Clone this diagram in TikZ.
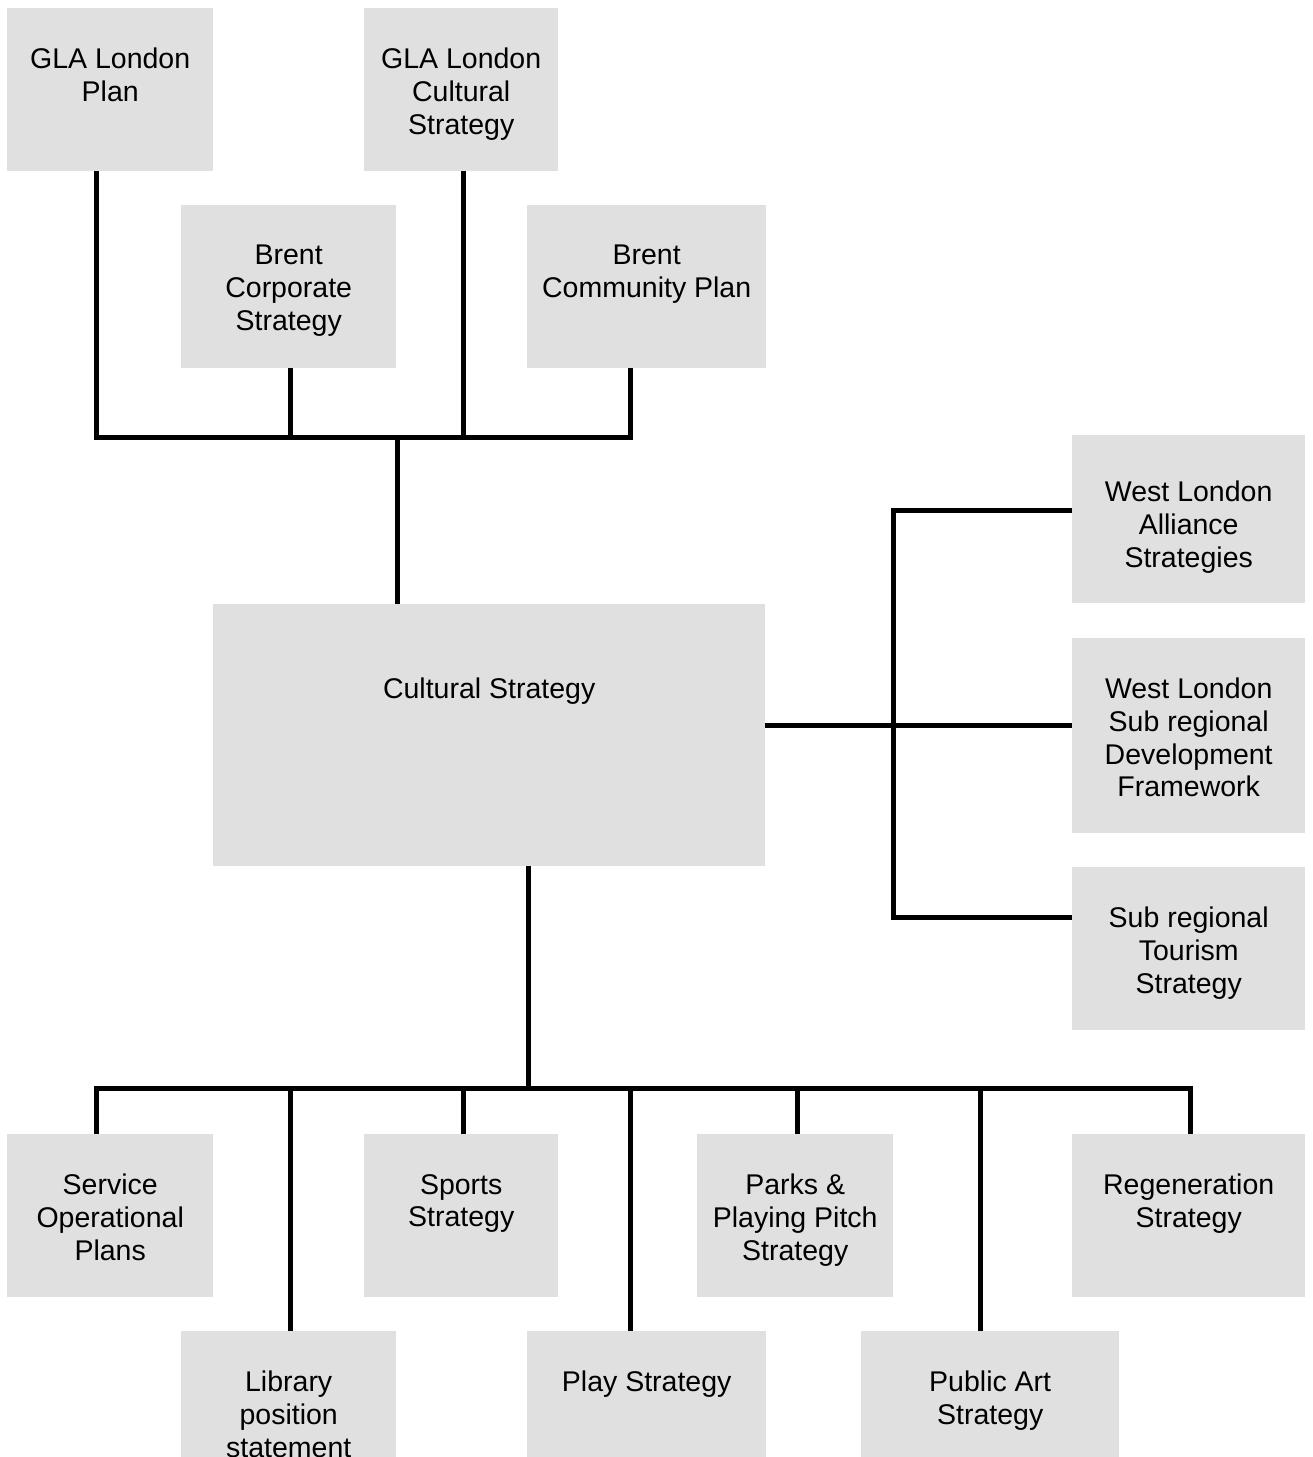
\documentclass[tikz,border=0pt]{standalone}
\usepackage{fontspec}
\setmainfont{Liberation Sans}
\definecolor{boxgray}{RGB}{224,224,224}
\begin{document}
\begin{tikzpicture}[x=1pt,y=-1pt,
  box/.style={fill=boxgray,draw=none,inner sep=0pt,anchor=north west},
  txt/.style={anchor=north,align=center,inner sep=0pt,font=\fontsize{28.5}{32.7}\selectfont},
  conn/.style={line width=5pt,draw=black,line join=miter}]
\useasboundingbox (0,0) rectangle (1313,1457);
% top boxes
\node[box,minimum width=206,minimum height=163] (gla) at (7,8) {};
\node[txt] (glat) at ([yshift=-40pt]gla.north) {GLA London\\Plan};
\node[box,minimum width=194,minimum height=163] (glac) at (364,8) {};
\node[txt] (glact) at ([yshift=-40pt]glac.north) {GLA London\\Cultural\\Strategy};
\node[box,minimum width=215,minimum height=163] (bcorp) at (181,205) {};
\node[txt] (bcorpt) at ([yshift=-40pt]bcorp.north) {Brent\\Corporate\\Strategy};
\node[box,minimum width=239,minimum height=163] (bcom) at (527,205) {};
\node[txt] (bcomt) at ([yshift=-40pt]bcom.north) {Brent\\Community Plan};
% central
\node[box,minimum width=552,minimum height=262] (cs) at (213,604) {};
\node[txt] (cst) at ([yshift=-74pt]cs.north) {Cultural Strategy};
% right boxes
\node[box,minimum width=233,minimum height=168] (wla) at (1072,435) {};
\node[txt] (wlat) at ([yshift=-46pt]wla.north) {West London\\Alliance\\Strategies};
\node[box,minimum width=233,minimum height=195] (wls) at (1072,638) {};
\node[txt] (wlst) at ([yshift=-40pt]wls.north) {West London\\Sub regional\\Development\\Framework};
\node[box,minimum width=233,minimum height=163] (slt) at (1072,867) {};
\node[txt] (sltt) at ([yshift=-40pt]slt.north) {Sub regional\\Tourism\\Strategy};
% bottom row 1
\node[box,minimum width=206,minimum height=163] (sop) at (7,1134) {};
\node[txt] (sopt) at ([yshift=-40pt]sop.north) {Service\\Operational\\Plans};
\node[box,minimum width=194,minimum height=163] (spo) at (364,1134) {};
\node[txt] (spot) at ([yshift=-40pt]spo.north) {Sports\\Strategy};
\node[box,minimum width=196,minimum height=163] (parks) at (697,1134) {};
\node[txt] (parkst) at ([yshift=-40pt]parks.north) {Parks \&\\Playing Pitch\\Strategy};
\node[box,minimum width=233,minimum height=163] (regen) at (1072,1134) {};
\node[txt] (regent) at ([yshift=-40pt]regen.north) {Regeneration\\Strategy};
% bottom row 2
\node[box,minimum width=215,minimum height=126] (lib) at (181,1331) {};
\node[txt] (libt) at ([yshift=-40pt]lib.north) {Library\\position\\statement};
\node[box,minimum width=239,minimum height=126] (play) at (527,1331) {};
\node[txt] (playt) at ([yshift=-40pt]play.north) {Play Strategy};
\node[box,minimum width=258,minimum height=126] (pub) at (861,1331) {};
\node[txt] (pubt) at ([yshift=-40pt]pub.north) {Public Art\\Strategy};
% top connectors
\coordinate (tA) at (96,437);
\coordinate (tB) at (290,437);
\coordinate (tC) at (463,437);
\coordinate (tD) at (630,437);
\coordinate (tM) at (397,437);
\draw[conn] (tA |- gla.south) -- (tA) -- (tD) -- (tD |- bcom.south);
\draw[conn] (tB |- bcorp.south) -- (tB);
\draw[conn] (tC |- glac.south) -- (tC);
\draw[conn] (tM) -- (tM |- cs.north);
% right connectors
\coordinate (rA) at (893,510);
\coordinate (rM) at (893,725);
\coordinate (rB) at (893,917);
\draw[conn] (wla.west |- rA) -- (rA) -- (rB) -- (slt.west |- rB);
\draw[conn] (rM -| cs.east) -- (wls.west |- rM);
% bottom connectors
\coordinate (bM) at (528,1088);
\coordinate (b1) at (96,1088);
\coordinate (b2) at (290,1088);
\coordinate (b3) at (463,1088);
\coordinate (b4) at (630,1088);
\coordinate (b5) at (797,1088);
\coordinate (b6) at (980,1088);
\coordinate (b7) at (1190,1088);
\draw[conn] (bM |- cs.south) -- (bM);
\draw[conn] (b1 |- sop.north) -- (b1) -- (b7) -- (b7 |- regen.north);
\draw[conn] (b2) -- (b2 |- lib.north);
\draw[conn] (b3) -- (b3 |- spo.north);
\draw[conn] (b4) -- (b4 |- play.north);
\draw[conn] (b5) -- (b5 |- parks.north);
\draw[conn] (b6) -- (b6 |- pub.north);
\end{tikzpicture}
\end{document}
